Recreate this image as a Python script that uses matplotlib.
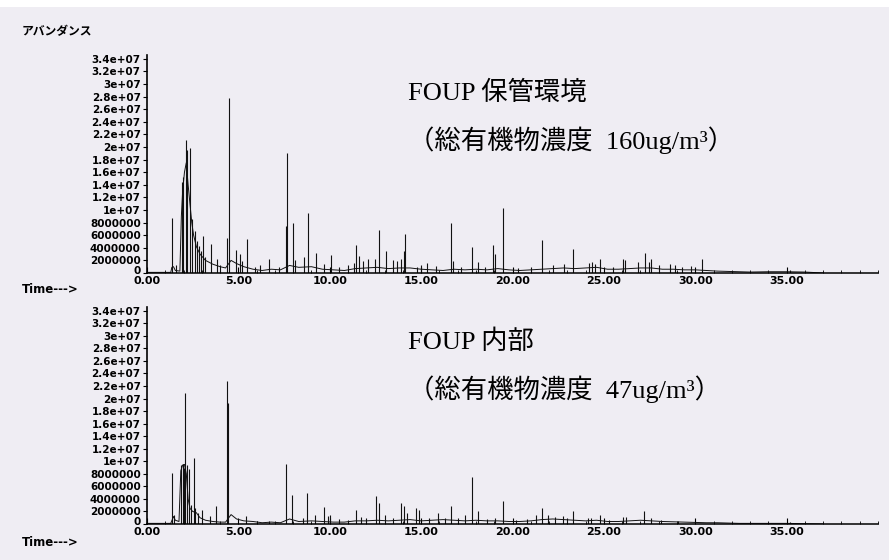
import matplotlib
matplotlib.use('Agg')
import matplotlib.pyplot as plt
from matplotlib.patches import Rectangle
from matplotlib.transforms import ScaledTranslation
import numpy as np

# chromatogram values (time in min, abundance in 1e6)
top_base_t = [0, 1.30, 1.36, 1.45, 1.55, 1.80, 1.88, 1.95, 2.05, 2.15, 2.25, 2.35, 2.45, 2.55, 2.70,
              2.90, 3.20, 3.60, 4.00, 4.30, 4.60, 4.90, 5.30, 5.80, 6.30, 6.80, 7.30, 7.80, 8.30, 9.00,
              9.60, 10.20, 10.80, 11.40, 12.00, 12.60, 13.20, 13.80, 14.40, 15.00, 15.60, 16.20, 16.80,
              17.40, 18.00, 18.60, 19.20, 19.80, 20.40, 21.00, 21.60, 22.20, 22.80, 23.40, 24.00, 24.60,
              25.20, 25.80, 26.40, 27.00, 27.60, 28.20, 28.80, 29.40, 30.00, 30.60, 31.20, 31.80, 32.40,
              33.00, 34.00, 35.00, 36.00, 37.00]
top_base_v = [0.1, 0.1, 0.9, 1.0, 0.4, 0.3, 9.0, 13.0, 16.0, 17.5, 14.0, 11.0, 8.0, 6.0, 4.2,
              3.0, 2.0, 1.4, 1.0, 0.8, 2.0, 1.5, 1.0, 0.6, 0.4, 0.6, 0.5, 1.2, 0.9, 1.0,
              0.6, 0.5, 0.4, 0.7, 0.8, 0.9, 0.7, 0.8, 0.8, 0.6, 0.5, 0.4, 0.6,
              0.5, 0.6, 0.5, 0.7, 0.5, 0.4, 0.5, 0.6, 0.7, 0.8, 0.7, 0.8, 0.9,
              0.6, 0.6, 0.7, 0.8, 0.8, 0.6, 0.6, 0.5, 0.5, 0.4, 0.3, 0.25, 0.2,
              0.15, 0.2, 0.2, 0.15, 0.0]
top_peak_t = [1.39, 1.60, 1.92, 1.99, 2.11, 2.18, 2.33, 2.45, 2.62, 2.75, 2.85, 2.95, 3.08, 3.20, 3.50,
              3.81, 4.00, 4.39, 4.50, 4.85, 5.07, 5.20, 5.47, 5.90, 6.20, 6.67, 7.20, 7.58, 7.65, 7.97,
              8.10, 8.58, 8.82, 9.24, 9.70, 10.06, 10.50, 11.00, 11.30, 11.46, 11.60, 11.80, 12.10,
              12.50, 12.70, 13.07, 13.46, 13.70, 13.88, 14.04, 14.12, 14.76, 15.00, 15.30, 15.80,
              16.64, 16.76, 17.20, 17.79, 18.10, 18.50, 18.93, 19.05, 19.50, 20.30, 21.00, 21.60,
              22.20, 22.80, 23.30, 24.20, 24.35, 24.50, 24.80, 25.50, 26.05, 26.17, 26.87, 27.24,
              27.45, 27.60, 28.00, 28.60, 28.90, 29.30, 29.75, 30.37, 35.20]
top_peak_h = [8.7, 1.3, 14.5, 15.3, 21.1, 19.5, 19.8, 8.5, 6.6, 5.0, 4.3, 3.5, 5.8, 2.5, 4.6,
              2.3, 1.2, 5.6, 27.8, 3.6, 3.0, 1.9, 5.4, 1.0, 1.2, 2.3, 1.0, 7.4, 19.0, 7.9,
              2.0, 2.6, 9.6, 3.1, 1.4, 2.9, 1.0, 1.3, 1.6, 4.5, 2.7, 1.9, 2.2,
              2.2, 6.9, 3.5, 2.0, 1.9, 2.2, 3.5, 6.2, 0.9, 1.2, 1.6, 1.1,
              8.0, 1.9, 1.0, 4.2, 1.8, 1.0, 4.5, 3.0, 10.3, 0.8, 0.9, 5.3,
              1.3, 1.5, 3.8, 1.6, 1.8, 1.5, 2.3, 1.0, 2.3, 2.0, 1.7, 3.2,
              1.8, 2.3, 1.2, 1.5, 1.2, 1.0, 1.1, 2.3, 0.4]

bot_base_t = [0, 1.30, 1.45, 1.55, 1.75, 1.85, 1.95, 2.05, 2.15, 2.25, 2.35, 2.50, 2.70, 2.90, 3.20,
              3.60, 4.00, 4.30, 4.60, 4.90, 5.30, 5.80, 6.30, 6.80, 7.30, 7.80, 8.30, 9.00, 9.60,
              10.20, 10.80, 11.40, 12.00, 12.60, 13.20, 13.80, 14.40, 15.00, 15.60, 16.20, 16.80,
              17.40, 18.00, 18.60, 19.20, 19.80, 20.40, 21.00, 21.60, 22.20, 22.80, 23.40, 24.00,
              24.60, 25.20, 25.80, 26.40, 27.00, 27.60, 28.20, 28.80, 29.40, 30.00, 30.60, 31.20,
              31.80, 32.40, 33.00, 34.00, 35.00, 36.00, 37.00]
bot_base_v = [0.1, 0.1, 1.2, 0.6, 0.4, 8.5, 9.4, 9.5, 8.0, 4.0, 2.5, 2.0, 1.8, 1.0, 0.6,
              0.4, 0.3, 0.3, 1.5, 0.8, 0.5, 0.4, 0.2, 0.3, 0.2, 0.8, 0.4, 0.5, 0.4,
              0.3, 0.3, 0.5, 0.5, 0.6, 0.5, 0.6, 0.7, 0.5, 0.6, 0.7, 0.6,
              0.5, 0.6, 0.5, 0.5, 0.4, 0.4, 0.5, 0.7, 0.8, 0.7, 0.6, 0.5,
              0.6, 0.4, 0.4, 0.5, 0.6, 0.5, 0.4, 0.35, 0.3, 0.25, 0.2, 0.2,
              0.15, 0.1, 0.1, 0.1, 0.1, 0.05, 0.0]
bot_peak_t = [1.39, 1.50, 1.88, 1.95, 2.02, 2.08, 2.17, 2.28, 2.40, 2.55, 2.64, 2.80, 3.02, 3.44, 3.75,
              4.39, 4.45, 5.41, 6.02, 6.70, 7.58, 7.95, 8.55, 8.78, 9.20, 9.66, 9.88, 10.04, 10.50,
              11.00, 11.44, 11.70, 12.00, 12.54, 12.70, 13.05, 13.46, 13.88, 14.08, 14.23, 14.74,
              14.87, 15.42, 15.94, 16.30, 16.62, 17.00, 17.38, 17.81, 18.12, 18.60, 19.03, 19.48,
              20.20, 20.80, 21.30, 21.59, 21.96, 22.30, 22.74, 23.00, 23.30, 24.14, 24.30, 24.80,
              25.30, 26.04, 26.20, 27.22, 27.59, 28.10, 29.03, 35.20]
bot_peak_h = [8.2, 1.5, 9.4, 9.6, 9.0, 20.9, 9.4, 8.7, 3.0, 10.6, 2.6, 1.8, 2.3, 1.2, 2.8,
              22.8, 19.3, 1.2, 0.5, 0.4, 9.5, 4.6, 0.9, 4.9, 1.4, 2.7, 1.3, 1.4, 0.8,
              0.7, 2.2, 1.1, 0.9, 4.4, 3.4, 1.5, 1.0, 3.4, 2.9, 1.8, 2.5,
              2.3, 1.0, 1.8, 1.0, 2.9, 0.9, 1.5, 7.5, 2.1, 0.8, 1.0, 3.6,
              0.7, 0.8, 1.5, 2.6, 1.5, 1.1, 1.3, 1.0, 2.0, 1.0, 1.0, 1.4,
              0.6, 1.1, 1.1, 2.1, 0.9, 0.6, 0.5, 0.3]

x_ticks = [0, 5, 10, 15, 20, 25, 30, 35]
x_labels = ['0.00', '5.00', '10.00', '15.00', '20.00', '25.00', '30.00', '35.00']
y_ticks = [0, 2, 4, 6, 8, 10, 12, 14, 16, 18, 20, 22, 24, 26, 28, 30, 32, 34]
y_labels = ['0', '2000000', '4000000', '6000000', '8000000', '1e+07', '1.2e+07', '1.4e+07',
            '1.6e+07', '1.8e+07', '2e+07', '2.2e+07', '2.4e+07', '2.6e+07', '2.8e+07', '3e+07',
            '3.2e+07', '3.4e+07']

titles = [('FOUP 保管環境', '（総有機物濃度  160ug/m³）'),
          ('FOUP 内部', '（総有機物濃度  47ug/m³）')]

bg = '#efedf3'
ink = '#111111'
W, H = 889, 560

fig = plt.figure(figsize=(W / 100, H / 100), dpi=100, facecolor=bg)
fig.add_artist(Rectangle((0, 1 - 7 / H), 1, 7 / H, transform=fig.transFigure,
                         facecolor='white', edgecolor='none'))


def px_axes(left, top, right, bottom):
    return fig.add_axes([left / W, 1 - bottom / H, (right - left) / W, (bottom - top) / H])


ax_top = px_axes(147, 55, 878, 273)
ax_bot = px_axes(147, 307, 878, 524)

panels = [(ax_top, top_base_t, top_base_v, top_peak_t, top_peak_h),
          (ax_bot, bot_base_t, bot_base_v, bot_peak_t, bot_peak_h)]

for ax, bt, bv, pt, ph in panels:
    ax.set_facecolor('none')
    ax.plot(bt, np.array(bv) * 1e6, color=ink, lw=0.7)
    ax.vlines(pt, 0, np.array(ph) * 1e6, color=ink, lw=0.8)
    ax.set_xlim(0, 40)
    ax.set_ylim(0, 3.46e7)
    for s in ['top', 'right']:
        ax.spines[s].set_visible(False)
    ax.spines['left'].set_linewidth(1.2)
    ax.spines['bottom'].set_linewidth(1.1)
    ax.set_xticks(x_ticks)
    ax.set_xticklabels(x_labels)
    ax.set_xticks(np.arange(0, 41, 1), minor=True)
    ax.set_yticks(np.array(y_ticks) * 1e6)
    ax.set_yticklabels(y_labels)
    ax.tick_params(axis='x', which='major', direction='in', length=4, width=0.8, pad=2.5)
    ax.tick_params(axis='x', which='minor', direction='in', length=2, width=0.6)
    ax.tick_params(axis='y', direction='out', length=3, width=0.8, pad=1.5)
    for lab in ax.get_xticklabels():
        lab.set_fontsize(8)
        lab.set_fontweight('bold')
        lab.set_family('DejaVu Sans')
    for lab in ax.get_yticklabels():
        lab.set_fontsize(7.5)
        lab.set_fontweight('bold')
        lab.set_family('DejaVu Sans')
    # the zero label sits a little above its tick, clear of "0.00"
    zero = ax.get_yticklabels()[0]
    zero.set_transform(zero.get_transform() + ScaledTranslation(0, 2 / 72, fig.dpi_scale_trans))

title_font = ['Liberation Serif', 'Noto Sans CJK JP']
fig.text(408 / W, 1 - 93 / H, titles[0][0], family=title_font, fontsize=19, va='center')
fig.text(408 / W, 1 - 140 / H, titles[0][1], family=title_font, fontsize=19, va='center')
fig.text(408 / W, 1 - 342 / H, titles[1][0], family=title_font, fontsize=19, va='center')
fig.text(408 / W, 1 - 389 / H, titles[1][1], family=title_font, fontsize=19, va='center')

fig.text(22 / W, 1 - 32 / H, 'アバンダンス', family=['Noto Sans CJK JP'], fontsize=8.5,
         fontweight='bold', va='center')
fig.text(22 / W, 1 - 289 / H, 'Time--->', family='DejaVu Sans', fontsize=8.5,
         fontweight='bold', va='center')
fig.text(22 / W, 1 - 543 / H, 'Time--->', family='DejaVu Sans', fontsize=8.5,
         fontweight='bold', va='center')

fig.savefig('out.png', dpi=100, facecolor=bg)
